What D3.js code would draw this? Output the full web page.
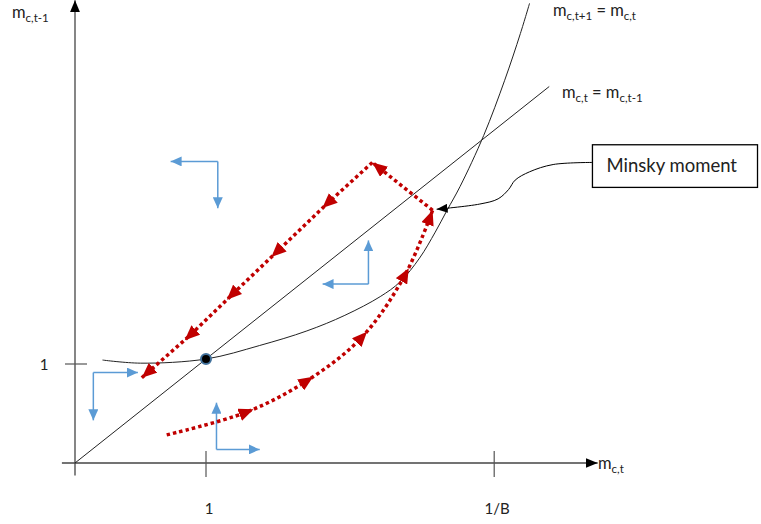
<!DOCTYPE html>
<html>
<head>
<meta charset="utf-8">
<script src="https://cdn.jsdelivr.net/npm/d3@7"></script>
<style>
  body { margin: 0; background: #fff; }
  svg { display: block; font-family: Lato, "Open Sans", sans-serif; }
</style>
</head>
<body>
<div id="chart"></div>
<script>
var width = 761, height = 524;

// tick values and their labels
var xTicks = [1, 3.2];
var xTickLabels = ["1", "1/B"];
var yTicks = [1];
var yTickLabels = ["1"];

// m_c,t = m_c,t-1 (45 degree line)
var diagX = [0, 3.62];
var diagY = [0, 3.62];

// m_c,t+1 = m_c,t curve
var curveX = [0.21, 0.50, 1.00, 1.41, 1.77, 2.06, 2.33, 2.48, 2.63, 2.75, 2.84, 2.94, 3.12, 3.28, 3.40, 3.47];
var curveY = [0.99, 0.96, 1.00, 1.13, 1.27, 1.42, 1.60, 1.74, 1.97, 2.22, 2.43, 2.66, 3.15, 3.68, 4.13, 4.42];

// steady state point
var steady = [1, 1];

// red dotted trajectory: rising branch, then the jump, then the fall
var riseX = [0.70, 1.31, 1.77, 2.19, 2.52, 2.73];
var riseY = [0.27, 0.49, 0.79, 1.21, 1.81, 2.43];
var jumpX = [2.73, 2.27];
var jumpY = [2.43, 2.89];
var fallX = [2.27, 1.93, 1.54, 1.20, 0.88, 0.51];
var fallY = [2.89, 2.50, 2.03, 1.62, 1.23, 0.82];

// blue direction arrows: corner, then the two tips
var dirCorner = [[1.09, 2.90], [2.24, 1.72], [0.14, 0.87], [1.08, 0.13]];
var dirTipA = [[0.73, 2.90], [2.24, 2.14], [0.48, 0.87], [1.08, 0.58]];
var dirTipB = [[1.09, 2.45], [1.89, 1.72], [0.14, 0.41], [1.41, 0.13]];

// "Minsky moment" call-out
var calloutX = [3.95, 3.65, 3.47, 3.36, 3.31, 3.23, 3.09, 2.76];
var calloutY = [2.89, 2.87, 2.80, 2.72, 2.63, 2.54, 2.49, 2.44];
var boxCorner = [[3.95, 3.06], [5.21, 2.65]];

var x = d3.scaleLinear().domain([0, 1]).range([75, 206]);
var y = d3.scaleLinear().domain([0, 1]).range([463, 359]);

var svg = d3.select("#chart").append("svg")
  .attr("width", width)
  .attr("height", height);

var defs = svg.append("defs");
function marker(id, w, h, ref, color) {
  defs.append("marker")
    .attr("id", id)
    .attr("viewBox", "0 0 " + w + " " + h)
    .attr("refX", ref).attr("refY", h / 2)
    .attr("markerWidth", w).attr("markerHeight", h)
    .attr("markerUnits", "userSpaceOnUse")
    .attr("orient", "auto")
    .append("path")
    .attr("d", "M0,0L" + w + "," + (h / 2) + "L0," + h + "Z")
    .attr("fill", color).attr("stroke", "none");
}
marker("redMid", 15, 13, 7.5, "#c00000");
marker("redEnd", 15, 13, 15, "#c00000");
marker("blueEnd", 11, 10, 11, "#5b9bd5");
marker("blackEnd", 11, 9, 11, "#000");
marker("axisEnd", 12, 10, 12, "#000");

var pts = function(xs, ys) { return xs.map(function(d, i) { return [d, ys[i]]; }); };
var line = d3.line().x(function(d) { return x(d[0]); }).y(function(d) { return y(d[1]); });
var smooth = d3.line().x(function(d) { return x(d[0]); }).y(function(d) { return y(d[1]); })
  .curve(d3.curveCatmullRom.alpha(0.5));

// axes
svg.append("line")
  .attr("x1", x(-0.1)).attr("y1", y(0))
  .attr("x2", x(3.99)).attr("y2", y(0))
  .attr("stroke", "#444").attr("stroke-width", 1.3)
  .attr("marker-end", "url(#axisEnd)");
svg.append("line")
  .attr("x1", x(0)).attr("y1", y(-0.12))
  .attr("x2", x(0)).attr("y2", y(4.45))
  .attr("stroke", "#444").attr("stroke-width", 1.3)
  .attr("marker-end", "url(#axisEnd)");

svg.selectAll(".xtick").data(xTicks).enter().append("line")
  .attr("class", "xtick")
  .attr("x1", function(d) { return x(d); }).attr("x2", function(d) { return x(d); })
  .attr("y1", y(0) - 12).attr("y2", y(0) + 14)
  .attr("stroke", "#555").attr("stroke-width", 1.2);
svg.selectAll(".xlab").data(xTicks).enter().append("text")
  .attr("class", "xlab")
  .attr("x", function(d) { return x(d) + 3; })
  .attr("y", 514)
  .attr("text-anchor", "middle")
  .attr("font-size", 15).attr("fill", "#222")
  .text(function(d, i) { return xTickLabels[i]; });

svg.selectAll(".ytick").data(yTicks).enter().append("line")
  .attr("class", "ytick")
  .attr("x1", x(0) - 10).attr("x2", x(0) + 12)
  .attr("y1", function(d) { return y(d) + 5; }).attr("y2", function(d) { return y(d) + 5; })
  .attr("stroke", "#555").attr("stroke-width", 1.2);
svg.selectAll(".ylab").data(yTicks).enter().append("text")
  .attr("class", "ylab")
  .attr("x", 44).attr("y", function(d) { return y(d) + 11; })
  .attr("text-anchor", "middle")
  .attr("font-size", 15).attr("fill", "#222")
  .text(function(d, i) { return yTickLabels[i]; });

// text with subscripts: parts alternate normal / subscript
function subLabel(px, py, parts) {
  var t = svg.append("text").attr("x", px).attr("y", py)
    .attr("font-size", 16.5).attr("fill", "#222");
  parts.forEach(function(p, i) {
    if (i % 2 == 0) {
      t.append("tspan").attr("dy", i == 0 ? 0 : -4).attr("font-size", 16.5).text(p);
    } else {
      t.append("tspan").attr("dy", 4).attr("font-size", 11.5).text(p);
    }
  });
}
subLabel(12, 18, ["m", "c,t-1"]);
subLabel(598, 469, ["m", "c,t"]);
subLabel(553, 16, ["m", "c,t+1", " = m", "c,t"]);
subLabel(562, 98, ["m", "c,t", " = m", "c,t-1"]);

// 45 degree line and the curve
svg.append("path").datum(pts(diagX, diagY))
  .attr("d", line).attr("fill", "none")
  .attr("stroke", "#222").attr("stroke-width", 1);
svg.append("path").datum(pts(curveX, curveY))
  .attr("d", smooth).attr("fill", "none")
  .attr("stroke", "#222").attr("stroke-width", 1);

// blue direction arrows
dirCorner.forEach(function(c, i) {
  [dirTipA[i], dirTipB[i]].forEach(function(t) {
    svg.append("path").datum([c, t])
      .attr("d", line).attr("fill", "none")
      .attr("stroke", "#5b9bd5").attr("stroke-width", 1.5)
      .attr("marker-end", "url(#blueEnd)");
  });
});

// red dotted trajectory
function dotted(data, gen) {
  return svg.append("path").datum(data)
    .attr("d", gen).attr("fill", "none")
    .attr("stroke", "#c00000").attr("stroke-width", 3.5)
    .attr("stroke-dasharray", "3.5,3");
}
dotted(pts(riseX, riseY), smooth)
  .attr("marker-mid", "url(#redMid)").attr("marker-end", "url(#redEnd)");
dotted(pts(jumpX, jumpY), line)
  .attr("marker-end", "url(#redEnd)");
dotted(pts(fallX, fallY), line)
  .attr("marker-mid", "url(#redMid)").attr("marker-end", "url(#redEnd)");

// steady state
svg.append("circle")
  .attr("cx", x(steady[0])).attr("cy", y(steady[1])).attr("r", 5)
  .attr("fill", "#000").attr("stroke", "#41719c").attr("stroke-width", 2);

// call-out
svg.append("path").datum(pts(calloutX, calloutY))
  .attr("d", smooth).attr("fill", "none")
  .attr("stroke", "#000").attr("stroke-width", 1)
  .attr("marker-end", "url(#blackEnd)");
svg.append("rect")
  .attr("x", x(boxCorner[0][0])).attr("y", y(boxCorner[0][1]))
  .attr("width", x(boxCorner[1][0]) - x(boxCorner[0][0]))
  .attr("height", y(boxCorner[1][1]) - y(boxCorner[0][1]))
  .attr("fill", "#fff").attr("stroke", "#000").attr("stroke-width", 1.3);
svg.append("text")
  .attr("x", x(boxCorner[0][0]) + 14).attr("y", 172)
  .attr("font-size", 18.5).attr("fill", "#222")
  .text("Minsky moment");
</script>
</body>
</html>
